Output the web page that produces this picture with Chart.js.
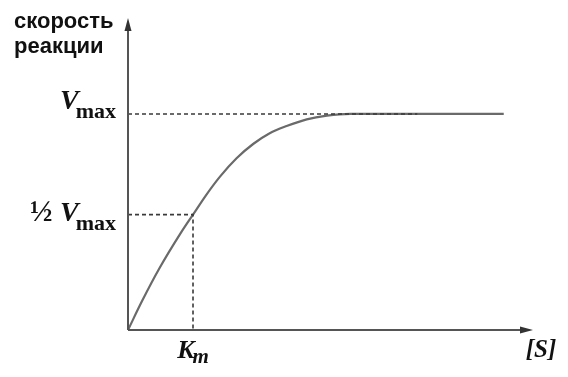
<!DOCTYPE html>
<html>
<head>
<meta charset="utf-8">
<script src="https://cdn.jsdelivr.net/npm/chart.js@4"></script>
<style>
  html, body { margin: 0; padding: 0; background: #fff; }
  #wrap { width: 568px; height: 377px; }
</style>
</head>
<body>
<div id="wrap"><canvas id="myChart" width="568" height="377"></canvas></div>
<script>
//data ([S] in units of Km, rate in units of Vmax)
const sValues = [0, 0.22, 0.477, 0.81, 1.0, 1.21, 1.415, 1.67, 1.93, 2.18, 2.44, 2.75, 3.06, 3.42, 5.78];
const rateValues = [0, 0.136, 0.282, 0.448, 0.534, 0.628, 0.71, 0.795, 0.862, 0.911, 0.944, 0.975, 0.992, 1.0, 1.0];

//guide levels
const vmax = 1.0;
const halfVmax = 0.534;
const km = 1.0;
const vmaxGuideEnd = 4.45;

//axis ranges
const xMax = 6.23;
const yMax = 1.444;

//tick labels (main part + subscript)
const yTickValues = [vmax, halfVmax];
const yTickPrefix = ["", "½ "];
const yTickMain = ["V", "V"];
const yTickSub = ["max", "max"];
const xTickValues = [km];
const xTickMain = ["K"];
const xTickSub = ["m"];
const yAxisTitle = ["скорость", "реакции"];
const xAxisTitle = "[S]";

function points(xs, ys) {
  let out = [];
  for (let i = 0; i < xs.length; i++) {
    out.push({ x: xs[i], y: ys[i] });
  }
  return out;
}

const dashColor = "#3a3a3a";
const axisColor = "#555";
const textColor = "#111";

//axes with arrows and the text labels
const decorPlugin = {
  id: "decor",
  afterDatasetsDraw(chart) {
    let ctx = chart.ctx;
    let area = chart.chartArea;
    let xs = chart.scales.x;
    let ys = chart.scales.y;
    ctx.save();

    //axes
    ctx.strokeStyle = axisColor;
    ctx.lineWidth = 2;
    ctx.beginPath();
    ctx.moveTo(area.left, area.bottom);
    ctx.lineTo(area.right - 8, area.bottom);
    ctx.moveTo(area.left, area.bottom);
    ctx.lineTo(area.left, area.top + 8);
    ctx.stroke();
    ctx.fillStyle = "#333";
    ctx.beginPath();
    ctx.moveTo(area.right, area.bottom);
    ctx.lineTo(area.right - 13, area.bottom - 3.5);
    ctx.lineTo(area.right - 13, area.bottom + 3.5);
    ctx.closePath();
    ctx.fill();
    ctx.beginPath();
    ctx.moveTo(area.left, area.top);
    ctx.lineTo(area.left - 3.5, area.top + 13);
    ctx.lineTo(area.left + 3.5, area.top + 13);
    ctx.closePath();
    ctx.fill();

    ctx.fillStyle = textColor;
    ctx.textBaseline = "alphabetic";

    //y tick labels
    let yOffsets = [-5, 6.5];
    let subDrop = 9;
    for (let i = 0; i < yTickValues.length; i++) {
      let py = ys.getPixelForValue(yTickValues[i]) + yOffsets[i];
      let right = area.left - 12;
      ctx.font = "bold 22px 'Liberation Serif'";
      let wSub = ctx.measureText(yTickSub[i]).width;
      ctx.font = "italic bold 28px 'Liberation Serif'";
      let wMain = ctx.measureText(yTickMain[i]).width;
      ctx.font = "bold 30px 'Liberation Serif'";
      let wPre = ctx.measureText(yTickPrefix[i]).width;
      let start = right - wSub - wMain + 3 - wPre;
      ctx.textAlign = "left";
      ctx.fillText(yTickPrefix[i], start, py);
      ctx.font = "italic bold 28px 'Liberation Serif'";
      ctx.fillText(yTickMain[i], start + wPre, py);
      ctx.font = "bold 22px 'Liberation Serif'";
      ctx.fillText(yTickSub[i], start + wPre + wMain - 3, py + subDrop);
    }

    //x tick labels
    for (let i = 0; i < xTickValues.length; i++) {
      let px = xs.getPixelForValue(xTickValues[i]);
      let py = area.bottom + 28;
      ctx.font = "italic bold 26px 'Liberation Serif'";
      let wMain = ctx.measureText(xTickMain[i]).width;
      ctx.font = "italic bold 21px 'Liberation Serif'";
      let wSub = ctx.measureText(xTickSub[i]).width;
      let start = px - (wMain + wSub - 2) / 2;
      ctx.textAlign = "left";
      ctx.font = "italic bold 26px 'Liberation Serif'";
      ctx.fillText(xTickMain[i], start, py);
      ctx.font = "italic bold 21px 'Liberation Serif'";
      ctx.fillText(xTickSub[i], start + wMain - 2, py + 5);
    }

    //axis titles
    ctx.font = "italic bold 25px 'Liberation Serif'";
    ctx.textAlign = "center";
    ctx.fillText(xAxisTitle, area.right + 8, area.bottom + 27);

    ctx.font = "bold 22px 'Liberation Sans'";
    ctx.textAlign = "left";
    ctx.fillText(yAxisTitle[0], 14, 28);
    ctx.fillText(yAxisTitle[1], 14, 53);

    ctx.restore();
  }
};

function loadChart() {
  let ctx = document.getElementById("myChart").getContext("2d");
  let chart = new Chart(ctx, {
    type: "scatter",
    data: {
      datasets: [
        {
          //Vmax guide
          data: points([0, vmaxGuideEnd], [vmax, vmax]),
          showLine: true,
          borderColor: dashColor,
          borderWidth: 1.6,
          borderDash: [4, 3],
          pointRadius: 0
        },
        {
          //half Vmax / Km guide
          data: points([0, km, km], [halfVmax, halfVmax, 0]),
          showLine: true,
          borderColor: dashColor,
          borderWidth: 1.6,
          borderDash: [4, 3],
          pointRadius: 0
        },
        {
          //Michaelis-Menten curve
          data: points(sValues, rateValues),
          showLine: true,
          borderColor: "#6a6a6a",
          borderWidth: 2.2,
          cubicInterpolationMode: "monotone",
          pointRadius: 0
        }
      ]
    },
    options: {
      responsive: false,
      devicePixelRatio: 1,
      animation: false,
      layout: { padding: { left: 128, right: 35, top: 18, bottom: 47 } },
      plugins: {
        legend: { display: false },
        tooltip: { enabled: false }
      },
      scales: {
        x: { type: "linear", min: 0, max: xMax, display: false },
        y: { type: "linear", min: 0, max: yMax, display: false }
      }
    },
    plugins: [decorPlugin]
  });
}

window.onload = function() {
  loadChart();
};
</script>
</body>
</html>
